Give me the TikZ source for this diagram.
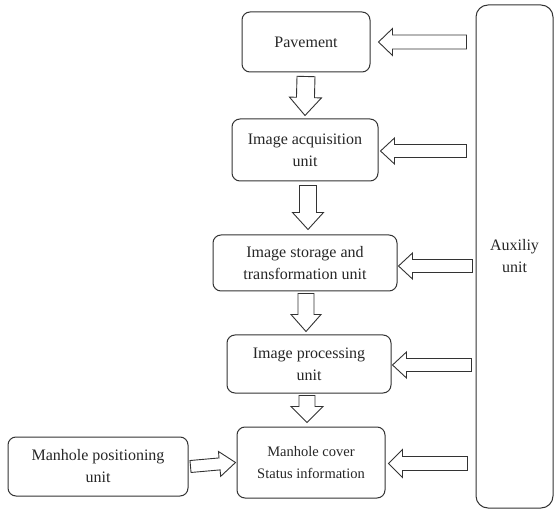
\documentclass[tikz,border=0pt]{standalone}
\usepackage{fontspec}
\setmainfont{Liberation Serif}
\usetikzlibrary{calc}

\tikzset{
  unit box/.style={draw=black!80, line width=1pt, rounded corners=8pt, align=center,
    font=\fontsize{16}{22}\selectfont, text=black!85},
  blockarrow/.style={draw=black!80, line width=0.9pt, fill=white, line join=miter},
}

% hollow block arrow: from, to, shaft half width, head half width, head length
\newcommand{\hollowarrow}[5]{%
  \draw[blockarrow] let \p1=(#1), \p2=(#2),
    \n1={atan2(\y2-\y1,\x2-\x1)}, \n2={veclen(\x2-\x1,\y2-\y1)} in
    [shift={(\p1)}, rotate=\n1]
    (0pt,-#3) -- ({\n2*1pt-#5},-#3) -- ({\n2*1pt-#5},-#4) -- ({\n2*1pt},0pt)
    -- ({\n2*1pt-#5},#4) -- ({\n2*1pt-#5},#3) -- (0pt,#3) -- cycle;}

\begin{document}
\begin{tikzpicture}[x=1pt,y=-1pt]
  \useasboundingbox (0,0) rectangle (554,510);

  % Main chain
  \node[unit box, minimum width=128pt, minimum height=60pt] (pav) at (306,42) {Pavement};
  \node[unit box, minimum width=146pt, minimum height=62pt] (acq) at (305,150) {Image acquisition\\unit};
  \node[unit box, minimum width=184pt, minimum height=56pt] (sto) at (305,263) {Image storage and\\transformation unit};
  \node[unit box, minimum width=164pt, minimum height=58pt] (proc) at (309,364) {Image processing\\unit};
  \node[unit box, minimum width=148pt, minimum height=71pt,
    font=\fontsize{14.5}{22}\selectfont] (man) at (311,462.5) {Manhole cover\\Status information};

  % Side units
  \node[unit box, minimum width=180pt, minimum height=59pt] (pos) at (98,466.5) {Manhole positioning\\unit};
  \node[unit box, rounded corners=12pt, minimum width=77pt, minimum height=503pt] (aux) at (514.5,256.5) {Auxiliy\\unit};

  % Downward arrows
  \hollowarrow{$(pav.south)+(0,4)$}{$(acq.north)+(0,-3)$}{9pt}{16pt}{18pt}
  \hollowarrow{$(acq.south)+(3,4)$}{$(sto.north)+(3,-5)$}{8.5pt}{15.5pt}{17pt}
  \hollowarrow{$(sto.south)+(1,2)$}{$(proc.north)+(-3,-3)$}{8pt}{15pt}{17pt}
  \hollowarrow{$(proc.south)+(-2,2)$}{$(man.north)+(-4,-4)$}{8pt}{16pt}{16pt}

  % Arrows from the auxiliary unit
  \hollowarrow{$(pav.east -| aux.west)+(-9,0)$}{$(pav.east)+(8,0)$}{7pt}{13.5pt}{14pt}
  \hollowarrow{$(acq.east -| aux.west)+(-9,1)$}{$(acq.east)+(2,1)$}{6.5pt}{13pt}{14pt}
  \hollowarrow{$(sto.east -| aux.west)+(-3,3)$}{$(sto.east)+(1,3)$}{6.5pt}{13pt}{14pt}
  \hollowarrow{$(proc.east -| aux.west)+(-4,1)$}{$(proc.east)+(1,1)$}{6.5pt}{13pt}{14pt}
  \hollowarrow{$(man.east -| aux.west)+(-8,1)$}{$(man.east)+(3,1)$}{7pt}{14pt}{14pt}

  % Positioning input
  \hollowarrow{$(pos.east)+(2,0)$}{$(man.west)+(-1,0)$}{6pt}{12.5pt}{16pt}
\end{tikzpicture}
\end{document}
